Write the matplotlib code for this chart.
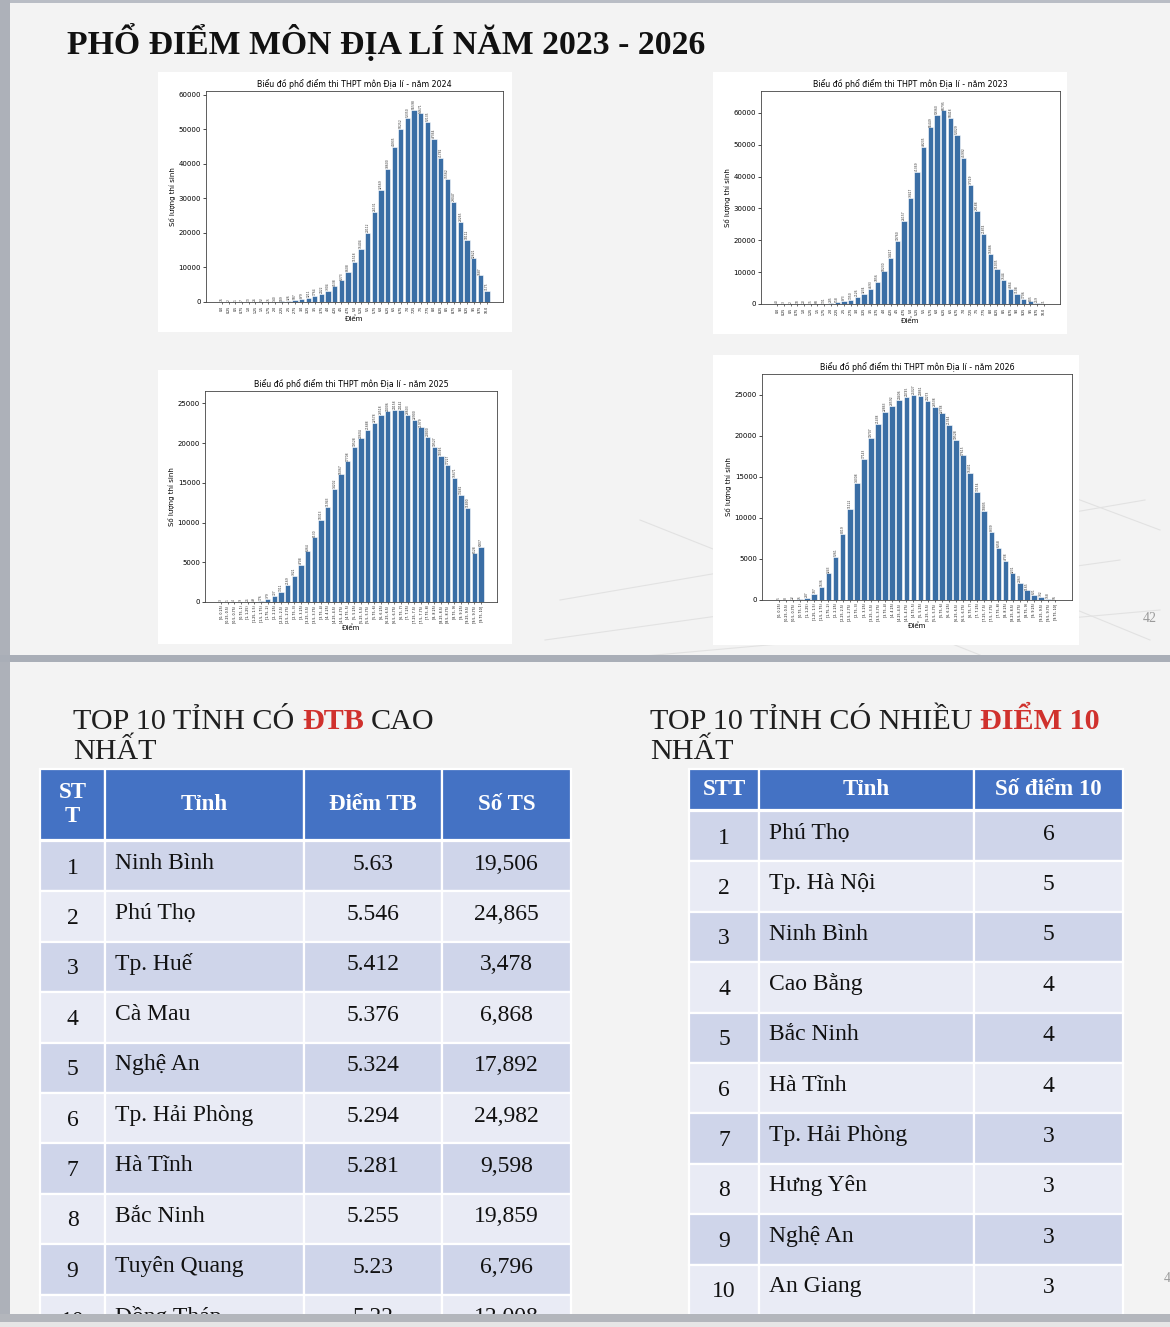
import numpy as np
import matplotlib
matplotlib.use("Agg")
import matplotlib.pyplot as plt
from matplotlib.patches import Rectangle

# ---------------- data ----------------
scores = [i * 0.25 for i in range(41)]
point_labels = [str(s) for s in scores]
interval_labels = [f"[{a:g}, {b:g})" for a, b in zip(scores[:-1], scores[1:])]
interval_labels[-1] = "[9.75, 10]"

counts_2024 = [76, 2, 1, 7, 13, 26, 52, 75, 140, 189, 326, 587, 879, 1211, 1764, 2422,
               3304, 4538, 6273, 8608, 11518, 15404, 20112, 26131, 32569, 38600, 44935,
               50252, 53350, 55598, 54671, 52135, 47364, 41782, 35562, 29047, 23265,
               18112, 12621, 7687, 3175]
counts_2023 = [40, 3, 2, 10, 20, 35, 68, 131, 285, 518, 873, 1350, 2126, 3234, 4693, 7056,
               10230, 14417, 19760, 26157, 33417, 41369, 49235, 55449, 59360, 60795, 58418,
               53029, 45992, 37319, 29188, 21874, 15686, 11035, 7544, 4864, 3108, 1706,
               805, 259, 31]
counts_2025 = [3, 1, 4, 9, 25, 49, 176, 379, 727, 1311, 2169, 3321, 4708, 6364, 8130, 10313,
               11943, 14202, 16067, 17708, 19528, 20604, 21688, 22578, 23518, 24006, 24158,
               24142, 23603, 22900, 21979, 20800, 19527, 18346, 17227, 15671, 13482, 11890,
               6128, 6907]
counts_2026 = [5, 8, 22, 75, 287, 707, 1636, 3243, 5261, 8019, 11122, 14308, 17143, 19707,
               21438, 22863, 23592, 24406, 24745, 25027, 24861, 24273, 23538, 22738, 21344,
               19528, 17615, 15431, 13154, 10805, 8339, 6358, 4738, 3231, 2063, 1165, 621,
               332, 158, 56]

avg_provinces = ["Ninh Bình", "Phú Thọ", "Tp. Huế", "Cà Mau", "Nghệ An", "Tp. Hải Phòng",
                 "Hà Tĩnh", "Bắc Ninh", "Tuyên Quang", "Đồng Tháp"]
avg_scores = [5.63, 5.546, 5.412, 5.376, 5.324, 5.294, 5.281, 5.255, 5.23, 5.22]
avg_candidates = [19506, 24865, 3478, 6868, 17892, 24982, 9598, 19859, 6796, 12008]

ten_provinces = ["Phú Thọ", "Tp. Hà Nội", "Ninh Bình", "Cao Bằng", "Bắc Ninh", "Hà Tĩnh",
                 "Tp. Hải Phòng", "Hưng Yên", "Nghệ An", "An Giang"]
ten_counts = [6, 5, 5, 4, 4, 4, 3, 3, 3, 3]

# ---------------- page ----------------
W, H = 1170, 1327
fig = plt.figure(figsize=(W / 100, H / 100), dpi=100)
fig.patch.set_facecolor("#f3f3f3")
bg = fig.add_axes([0, 0, 1, 1])
bg.set_xlim(0, W)
bg.set_ylim(H, 0)
bg.axis("off")

SERIF = "Liberation Serif"
HEAD_BLUE = "#4472c4"
ROW_DARK = "#cfd5ea"
ROW_LIGHT = "#e9ebf5"
RED = "#d0312d"


def rect(x0, y0, x1, y1, color, z=1, **kw):
    bg.add_patch(Rectangle((x0, y0), x1 - x0, y1 - y0, facecolor=color, zorder=z, **kw))


# slide frames
rect(0, 0, W, 3, "#b9bdc5", z=5)
rect(0, 0, 10, H, "#adb1b9", z=5)
rect(0, 655, W, 662, "#a9aeb7", z=5)
rect(0, 1314, W, 1322, "#b3b6bc", z=6)
rect(0, 1322, W, H, "#e6e6e6", z=6)

# faint perspective lines in the slide background
for (xa, ya, xb, yb) in [(560, 600, 1145, 500), (545, 640, 1120, 560), (600, 660, 1160, 610),
                         (760, 480, 1150, 640), (640, 520, 980, 655), (1000, 470, 1160, 530)]:
    bg.plot([xa, xb], [ya, yb], color="#e2e2e2", lw=0.8, zorder=0.5)

bg.text(67, 54, "PHỔ ĐIỂM MÔN ĐỊA LÍ NĂM 2023 - 2026", fontsize=24.3, fontweight="bold",
        family=SERIF, color="#111111", va="baseline", ha="left")
bg.text(1150, 622, "42", fontsize=10, family=SERIF, color="#9a9a9a", ha="center", va="baseline")
bg.text(1164, 1282, "4", fontsize=10, family=SERIF, color="#9a9a9a", ha="left", va="baseline")


# ---------------- histograms ----------------
def px_axes(x0, y0, x1, y1):
    return fig.add_axes([x0 / W, 1 - y1 / H, (x1 - x0) / W, (y1 - y0) / H])


def draw_hist(img_box, ax_box, values, labels, year):
    rect(*img_box, "white", z=1)
    ax = px_axes(*ax_box)
    x = np.arange(len(values))
    bars = ax.bar(x, values, width=0.8, color="#3a6ea5", edgecolor="white", linewidth=0.4)
    ax.bar_label(bars, labels=[str(v) for v in values], rotation=90, fontsize=2.2,
                 padding=0.6, color="#333333")
    ax.set_ylim(0, max(values) * 1.1)
    ax.set_xticks(x)
    ax.set_xticklabels(labels, rotation=90, fontsize=2.3)
    ax.set_title(f"Biểu đồ phổ điểm thi THPT môn Địa lí - năm {year}", fontsize=5.7, pad=3)
    ax.set_ylabel("Số lượng thí sinh", fontsize=5, labelpad=2)
    ax.set_xlabel("Điểm", fontsize=5, labelpad=1.5)
    ax.tick_params(axis="y", labelsize=5, length=2, width=0.5, pad=1.5)
    ax.tick_params(axis="x", length=1.5, width=0.4, pad=1)
    for s in ax.spines.values():
        s.set_linewidth(0.6)
        s.set_color("#444444")


draw_hist((158, 72, 512, 332), (206, 91, 503, 302), counts_2024, point_labels, 2024)
draw_hist((713, 72, 1067, 334), (761, 91, 1060, 304), counts_2023, point_labels, 2023)
draw_hist((158, 370, 512, 644), (205, 391, 497, 602), counts_2025, interval_labels, 2025)
draw_hist((713, 355, 1079, 645), (762, 374, 1072, 600), counts_2026, interval_labels, 2026)

# ---------------- headings ----------------
renderer = fig.canvas.get_renderer()


def rich_line(x, y, parts, size):
    for text, color, weight in parts:
        t = bg.text(x, y, text, fontsize=size, color=color, fontweight=weight,
                    family=SERIF, va="baseline", ha="left")
        bb = t.get_window_extent(renderer)
        x = bg.transData.inverted().transform((bb.x1, bb.y0))[0] + size * 1.39 * 0.25


DARK = "#1f1f1f"
rich_line(73, 729, [("TOP 10 TỈNH CÓ", DARK, "normal"), ("ĐTB", RED, "bold"),
                    ("CAO", DARK, "normal")], 21.7)
rich_line(73, 759, [("NHẤT", DARK, "normal")], 21.7)
rich_line(650, 729, [("TOP 10 TỈNH CÓ NHIỀU", DARK, "normal"), ("ĐIỂM 10", RED, "bold")], 21.7)
rich_line(650, 759, [("NHẤT", DARK, "normal")], 21.7)


# ---------------- tables ----------------
def cell(x0, y0, x1, y1, color):
    rect(x0, y0, x1, y1, color, z=2, edgecolor="white", linewidth=1.6)


def draw_table(xe, head_y, headers, row_top, pitch, columns, aligns):
    for i, h in enumerate(headers):
        cell(xe[i], head_y[0], xe[i + 1], head_y[1], HEAD_BLUE)
        cy = (head_y[0] + head_y[1]) / 2
        bg.text((xe[i] + xe[i + 1]) / 2, cy, h, fontsize=16.5, fontweight="bold", color="white",
                family=SERIF, ha="center", va="center", linespacing=1.2, zorder=3)
    n = len(columns[0])
    for r in range(n):
        y0 = row_top + r * pitch
        y1 = y0 + pitch
        color = ROW_DARK if r % 2 == 0 else ROW_LIGHT
        cy = (y0 + y1) / 2
        for c, col in enumerate(columns):
            cell(xe[c], y0, xe[c + 1], y1, color)
            if aligns[c] == "left":
                bg.text(xe[c] + 10, cy - 3, col[r], fontsize=17, family=SERIF, color="#111111",
                        ha="left", va="center", zorder=3)
            else:
                dy = 2 if c == 0 else -2
                bg.text((xe[c] + xe[c + 1]) / 2, cy + dy, col[r], fontsize=17, family=SERIF,
                        color="#111111", ha="center", va="center", zorder=3)


ranks = [str(i + 1) for i in range(10)]
draw_table([40, 105, 304, 442, 571], (769, 840), ["ST\nT", "Tỉnh", "Điểm TB", "Số TS"],
           841, 50.4,
           [ranks, avg_provinces, [str(v) for v in avg_scores], [f"{v:,}" for v in avg_candidates]],
           ["center", "left", "center", "center"])
draw_table([689, 759, 974, 1123], (769, 810), ["STT", "Tỉnh", "Số điểm 10"],
           811, 50.4,
           [ranks, ten_provinces, [str(v) for v in ten_counts]],
           ["center", "left", "center"])

fig.savefig("out.png", dpi=100, facecolor=fig.get_facecolor())
